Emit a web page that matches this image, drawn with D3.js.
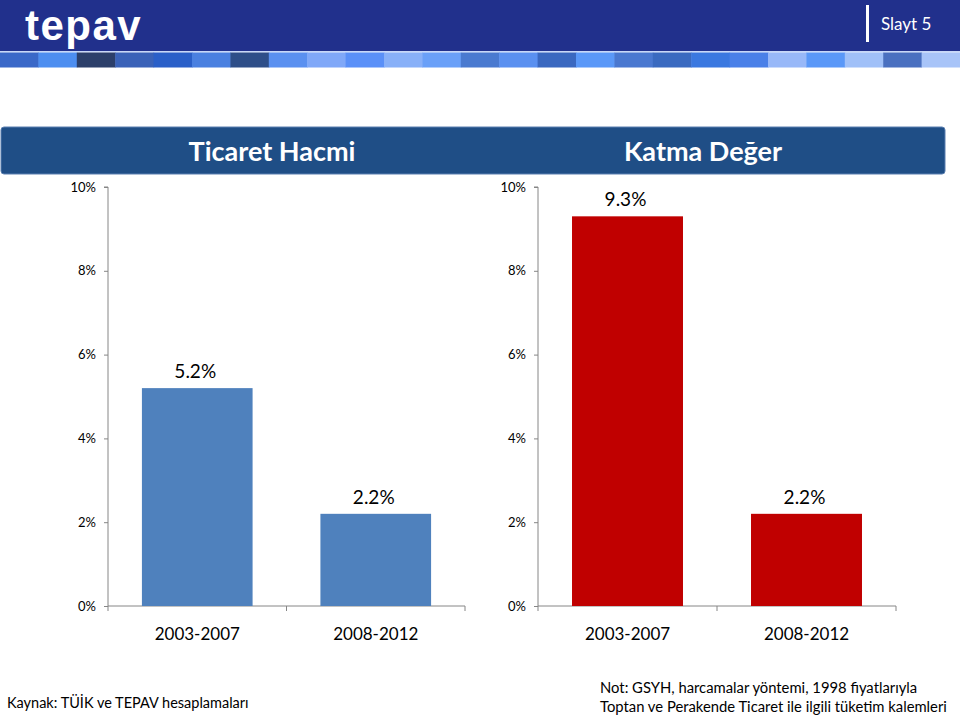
<!DOCTYPE html>
<html><head><meta charset="utf-8">
<script src="https://cdn.jsdelivr.net/npm/d3@7"></script>
<style>body{margin:0;background:#fff}svg{display:block}</style>
</head><body>
<svg id="c" width="960" height="715"></svg>
<script>
const categories = ["2003-2007", "2008-2012"];
const ticaretHacmi = [5.2, 2.2];
const katmaDeger = [9.3, 2.2];
const yTicks = [0, 2, 4, 6, 8, 10];
const panelTitles = ["Ticaret Hacmi", "Katma Değer"];
const blockColors = ["#3a68c8","#4d8ef0","#2c3f6a","#3a62b8","#2a5fc8","#4a80e0","#2e4e88","#5a90f0","#80a8f8","#5a90f8","#88b0f8","#6aa0f8","#4a7ad0","#5a90f0","#3a68c0","#5a98f8","#4a78d0","#3a6ac0","#3a78e0","#4a80e8","#98b8f8","#5a98f8","#a0c0f8","#4a70c0","#a8c4f8"];

const svg = d3.select("#c");
const F = "Lato, 'Open Sans', sans-serif";

// header
svg.append("rect").attr("x",0).attr("y",0).attr("width",960).attr("height",51).attr("fill","#21308c");
svg.append("text").attr("x",25).attr("y",40).attr("fill","#fff")
  .attr("font-family","'Liberation Sans', Arial, sans-serif").attr("font-weight","bold")
  .attr("font-size",42).attr("letter-spacing",1.5).text("tepav");
svg.append("rect").attr("x",866).attr("y",5).attr("width",3).attr("height",37).attr("fill","#fff");
svg.append("text").attr("x",881).attr("y",30).attr("fill","#fff").attr("font-family",F)
  .attr("font-size",17).text("Slayt 5");
svg.append("rect").attr("x",0).attr("y",51).attr("width",960).attr("height",1.5).attr("fill","#c8d8f8");
const bx = d3.scaleBand().domain(d3.range(blockColors.length)).range([0,960]);
svg.selectAll("rect.blk").data(blockColors).join("rect").attr("class","blk")
  .attr("x",(d,i)=>bx(i)).attr("y",52.5).attr("width",bx.bandwidth()+0.5).attr("height",15).attr("fill",d=>d);

// title bar
svg.append("rect").attr("x",1).attr("y",127).attr("width",944).attr("height",47).attr("rx",3)
  .attr("fill","#1f4e86").attr("stroke","#5a7fb0").attr("stroke-width",1);
const titleX = [272, 703];
panelTitles.forEach((t,i)=>{
  svg.append("text").attr("x",titleX[i]).attr("y",161).attr("text-anchor","middle")
    .attr("fill","#fff").attr("font-family",F).attr("font-weight","bold").attr("font-size",27).text(t);
});

function panel(x0, x1, values, color) {
  const y = d3.scaleLinear().domain([0,10]).range([606,187]);
  const x = d3.scaleBand().domain(categories).range([x0,x1]).paddingInner(0.38).paddingOuter(0.19);
  const g = svg.append("g");
  const ya = g.append("g").attr("transform",`translate(${x0},0)`)
    .call(d3.axisLeft(y).tickValues(yTicks).tickFormat(d=>d+"%").tickSize(4).tickPadding(8));
  ya.select(".domain").attr("stroke","#868686").attr("d",`M-4,187H0V606`);
  ya.selectAll(".tick line").attr("stroke","#868686");
  ya.selectAll(".tick text").attr("font-family",F).attr("font-size",13).attr("fill","#000");
  const xa = g.append("g").attr("transform","translate(0,606)")
    .call(d3.axisBottom(x).tickSize(0).tickPadding(22));
  xa.select(".domain").attr("stroke","#868686").attr("d",`M${x0},0H${x1}`);
  xa.selectAll(".tick text").attr("font-family",F).attr("font-size",17).attr("fill","#000");
  const step = (x1-x0)/categories.length;
  [0,1,2].forEach(k=>{
    g.append("line").attr("x1",x0+k*step).attr("x2",x0+k*step).attr("y1",606).attr("y2",611).attr("stroke","#868686");
  });
  g.selectAll("rect.bar").data(values).join("rect").attr("class","bar")
    .attr("x",(d,i)=>x(categories[i])).attr("width",x.bandwidth())
    .attr("y",d=>y(d)).attr("height",d=>y(0)-y(d)).attr("fill",color);
  g.selectAll("text.lbl").data(values).join("text").attr("class","lbl")
    .attr("x",(d,i)=>x(categories[i])+x.bandwidth()/2-2).attr("y",d=>y(d)-10)
    .attr("text-anchor","middle").attr("font-family",F).attr("font-size",19).attr("fill","#000")
    .text(d=>d.toFixed(1)+"%");
}
panel(108, 465, ticaretHacmi, "#4f81bd");
panel(538, 896, katmaDeger, "#c00000");

// footer
svg.append("text").attr("x",7).attr("y",708).attr("font-family",F).attr("font-size",14.5).attr("fill","#000")
  .text("Kaynak: TÜİK ve TEPAV hesaplamaları");
svg.append("text").attr("x",600).attr("y",693).attr("font-family",F).attr("font-size",14.8).attr("fill","#000")
  .text("Not: GSYH, harcamalar yöntemi, 1998 fiyatlarıyla");
svg.append("text").attr("x",600).attr("y",712).attr("font-family",F).attr("font-size",14.8).attr("fill","#000")
  .text("Toptan ve Perakende Ticaret ile ilgili tüketim kalemleri");
</script>
</body></html>
